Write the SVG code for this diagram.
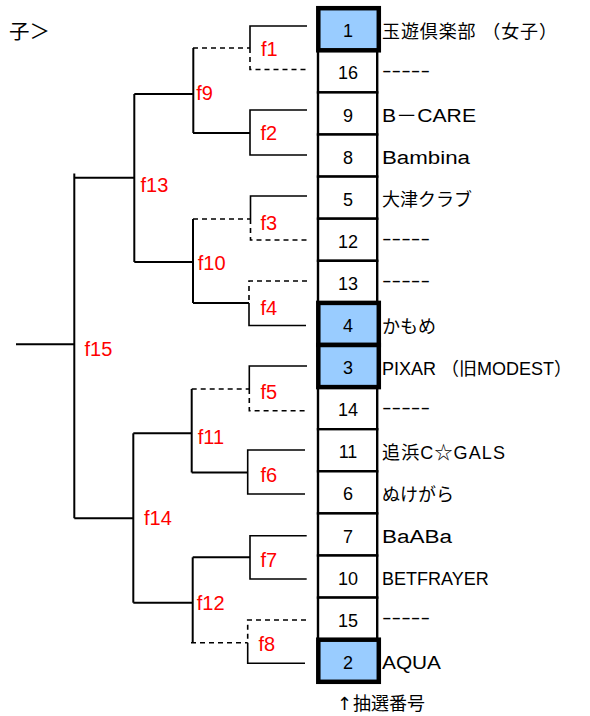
<svg xmlns="http://www.w3.org/2000/svg" width="590" height="716" viewBox="0 0 590 716">
<style>
.ln{stroke:#000;stroke-width:1.6;fill:none}
.ln2{stroke:#000;stroke-width:2;fill:none}
.dash{stroke-dasharray:5 4}
.box{fill:#fff;stroke:#000;stroke-width:2.4}
.win{fill:#99ccff;stroke:#000;stroke-width:4.5}
text{font-family:"Liberation Sans","Noto Sans CJK JP",sans-serif;font-size:18px;fill:#000}
.num{text-anchor:middle}
.lbl{fill:#ff0000;font-size:20px}
.ttl{font-size:20.5px}
</style>
<rect width="590" height="716" fill="#fff"/>
<text class="ttl" x="9" y="38.5">子＞</text>

<g id="connectors">
  <!-- f1 -->
  <path class="ln" d="M307,26H250V48"/>
  <path class="ln dash" d="M250,48V69.5H307"/>
  <path class="ln dash" d="M193,48H250"/>
  <!-- f2 -->
  <path class="ln" d="M307,110H250V155H307"/>
  <path class="ln2" d="M193,133H250"/>
  <!-- f9 -->
  <path class="ln2" d="M193.3,48V133"/>
  <path class="ln2" d="M134.3,94H193.3"/>
  <!-- f3 -->
  <path class="ln" d="M307,196H250.5V219"/>
  <path class="ln dash" d="M250.5,219V240H307"/>
  <path class="ln dash" d="M193,219H250.5"/>
  <!-- f4 -->
  <path class="ln dash" d="M307,281H249V303"/>
  <path class="ln" d="M249,303V325.5H306"/>
  <path class="ln2" d="M193,303H249"/>
  <!-- f10 -->
  <path class="ln2" d="M193,219V303"/>
  <path class="ln2" d="M134.3,262H193"/>
  <!-- f13 -->
  <path class="ln2" d="M134.3,94V262"/>
  <path class="ln2" d="M74.3,177.7H134.3"/>
  <!-- f5 -->
  <path class="ln" d="M307,366H249.3V389"/>
  <path class="ln dash" d="M249.3,389V410.7H307"/>
  <path class="ln dash" d="M191.7,389H249.3"/>
  <!-- f6 -->
  <path class="ln" d="M305,450H247.7V494H305"/>
  <path class="ln2" d="M191.7,472.5H247.7"/>
  <!-- f11 -->
  <path class="ln2" d="M191.7,389V472.5"/>
  <path class="ln2" d="M133.3,433.3H191.7"/>
  <!-- f7 -->
  <path class="ln" d="M306.7,535.7H250V579H306.7"/>
  <path class="ln2" d="M192.7,557.3H250"/>
  <!-- f8 -->
  <path class="ln dash" d="M306,620H247.7V642.7"/>
  <path class="ln" d="M247.7,642.7V663.3H305"/>
  <path class="ln dash" d="M191,642.7H247.7"/>
  <!-- f12 -->
  <path class="ln2" d="M192.7,557.3V642.7"/>
  <path class="ln2" d="M133.3,602.7H192.7"/>
  <!-- f14 -->
  <path class="ln2" d="M133.3,433.3V602.7"/>
  <path class="ln2" d="M74.3,518.3H133.3"/>
  <!-- f15 -->
  <path class="ln2" d="M74.3,173.5V518.3"/>
  <path class="ln2" d="M16,344.3H74.3"/>
</g>

<g id="match-labels">
  <text class="lbl" x="261" y="55.7">f1</text>
  <text class="lbl" x="260.5" y="140.3">f2</text>
  <text class="lbl" x="260.5" y="229.7">f3</text>
  <text class="lbl" x="260.5" y="314.7">f4</text>
  <text class="lbl" x="260.5" y="398.7">f5</text>
  <text class="lbl" x="260.5" y="482">f6</text>
  <text class="lbl" x="260.5" y="567">f7</text>
  <text class="lbl" x="258.5" y="651">f8</text>
  <text class="lbl" x="196.2" y="100.3">f9</text>
  <text class="lbl" x="197.8" y="270.3">f10</text>
  <text class="lbl" x="197.8" y="443.7">f11</text>
  <text class="lbl" x="196.8" y="610.3">f12</text>
  <text class="lbl" x="140.5" y="192">f13</text>
  <text class="lbl" x="144" y="525.3">f14</text>
  <text class="lbl" x="84.5" y="356.3">f15</text>
</g>

<g id="team-16"><rect class="box" x="318" y="50.3" width="59.2" height="42.1"/><text class="num" x="348" y="79.4">16</text><text x="382" y="76.8" textLength="48" lengthAdjust="spacingAndGlyphs">-----</text></g>
<g id="team-9"><rect class="box" x="318" y="92.4" width="59.2" height="42.1"/><text class="num" x="348" y="121.5">9</text><text x="382" y="122" textLength="94" lengthAdjust="spacingAndGlyphs">B－CARE</text></g>
<g id="team-8"><rect class="box" x="318" y="134.5" width="59.2" height="42.1"/><text class="num" x="348" y="163.6">8</text><text x="382" y="164.1" textLength="88" lengthAdjust="spacingAndGlyphs">Bambina</text></g>
<g id="team-5"><rect class="box" x="318" y="176.6" width="59.2" height="42.1"/><text class="num" x="348" y="205.7">5</text><text x="382" y="206.2">大津クラブ</text></g>
<g id="team-12"><rect class="box" x="318" y="218.7" width="59.2" height="42.1"/><text class="num" x="348" y="247.8">12</text><text x="382" y="245.2" textLength="48" lengthAdjust="spacingAndGlyphs">-----</text></g>
<g id="team-13"><rect class="box" x="318" y="260.8" width="59.2" height="42.1"/><text class="num" x="348" y="289.9">13</text><text x="382" y="287.3" textLength="48" lengthAdjust="spacingAndGlyphs">-----</text></g>
<g id="team-14"><rect class="box" x="318" y="387.1" width="59.2" height="42.1"/><text class="num" x="348" y="416.2">14</text><text x="382" y="413.6" textLength="48" lengthAdjust="spacingAndGlyphs">-----</text></g>
<g id="team-11"><rect class="box" x="318" y="429.2" width="59.2" height="42.1"/><text class="num" x="348" y="458.3">11</text><text x="382" y="458.8" textLength="123" lengthAdjust="spacing">追浜C☆GALS</text></g>
<g id="team-6"><rect class="box" x="318" y="471.3" width="59.2" height="42.1"/><text class="num" x="348" y="500.4">6</text><text x="382" y="500.9">ぬけがら</text></g>
<g id="team-7"><rect class="box" x="318" y="513.4" width="59.2" height="42.1"/><text class="num" x="348" y="542.5">7</text><text x="382" y="543" textLength="70" lengthAdjust="spacingAndGlyphs">BaABa</text></g>
<g id="team-10"><rect class="box" x="318" y="555.5" width="59.2" height="42.1"/><text class="num" x="348" y="584.6">10</text><text x="382" y="585.1">BETFRAYER</text></g>
<g id="team-15"><rect class="box" x="318" y="597.6" width="59.2" height="42.1"/><text class="num" x="348" y="626.7">15</text><text x="382" y="624.1" textLength="48" lengthAdjust="spacingAndGlyphs">-----</text></g>

<g id="team-1"><rect class="win" x="318.3" y="8.2" width="60.5" height="42.1"/><text class="num" x="348" y="37.3">1</text><text x="382" y="37.8" textLength="175" lengthAdjust="spacing">玉遊倶楽部 （女子）</text></g>
<g id="team-4"><rect class="win" x="318.3" y="302.9" width="60.5" height="42.1"/><text class="num" x="348" y="332">4</text><text x="382" y="332.5">かもめ</text></g>
<g id="team-3"><rect class="win" x="318.3" y="345" width="60.5" height="42.1"/><text class="num" x="348" y="374.1">3</text><text x="382" y="374.6">PIXAR （旧MODEST）</text></g>
<g id="team-2"><rect class="win" x="318.3" y="639.7" width="60.5" height="42.1"/><text class="num" x="348" y="668.8">2</text><text x="382" y="669.3" textLength="59" lengthAdjust="spacingAndGlyphs">AQUA</text></g>

<text x="337" y="710"><tspan font-family="'DejaVu Sans', sans-serif">↑</tspan><tspan x="353">抽選番号</tspan></text>
</svg>
